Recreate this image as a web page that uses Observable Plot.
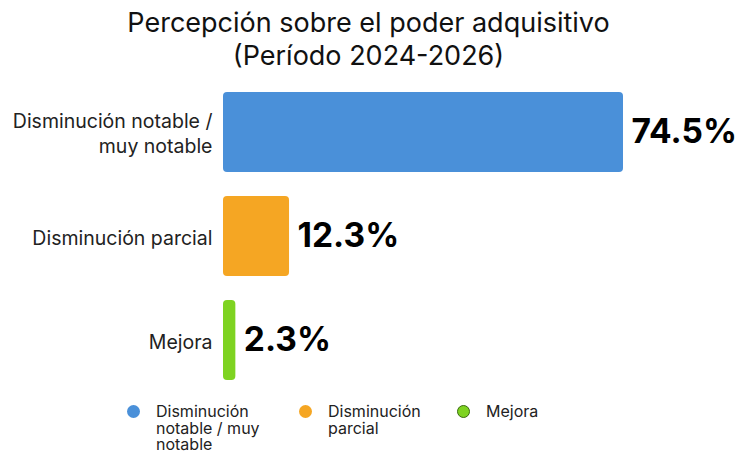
<!DOCTYPE html>
<html><head><meta charset="utf-8">
<script src="https://cdn.jsdelivr.net/npm/d3@7"></script>
<script src="https://cdn.jsdelivr.net/npm/@observablehq/plot@0.6"></script>
<style>
body{margin:0;background:#fff;font-family:Inter,"Noto Sans",sans-serif;overflow:hidden;}
#title{width:737px;height:80px;text-align:center;font-size:27px;line-height:33px;color:#111;padding-top:6px;box-sizing:border-box;}
#legend{display:flex;margin-left:127px;margin-top:11px;font-size:16px;line-height:16.5px;color:#222;}
.item{display:flex;align-items:flex-start;}
.dot{width:13px;height:13px;border-radius:50%;margin-top:2px;margin-right:16px;flex:none;box-sizing:border-box;}
</style></head>
<body>
<div id="title">Percepción sobre el poder adquisitivo<br>(Período 2024-2026)</div>
<div id="chart"></div>
<div id="legend"></div>
<script>
const categories = ["Disminución notable / muy notable", "Disminución parcial", "Mejora"];
const axisLabels = ["Disminución notable /\nmuy notable", "Disminución parcial", "Mejora"];
const values = [74.5, 12.3, 2.3];
const colors = ["#4a90d9", "#f5a623", "#7ed321"];
const legendLabels = ["Disminución\nnotable / muy\nnotable", "Disminución\nparcial", "Mejora"];
const legendWidths = [172, 158, 120];

const data = categories.map((c, i) => ({cat: c, value: values[i], color: colors[i]}));

const chart = Plot.plot({
  width: 737,
  height: 312,
  marginTop: 0,
  marginBottom: 0,
  marginLeft: 223,
  marginRight: 114,
  style: {fontFamily: "Inter, 'Noto Sans', sans-serif", background: "#fff", overflow: "visible"},
  x: {domain: [0, 74.5], axis: null},
  y: {domain: categories, padding: 0, label: null},
  color: {domain: categories, range: colors},
  marks: [
    Plot.barX(data, {x: "value", y: "cat", fill: "cat", insetTop: 12, insetBottom: 12, rx: 4}),
    Plot.text(data, {x: "value", y: "cat", text: d => d.value.toFixed(1) + "%", textAnchor: "start", dx: 8, fontSize: 33.5, fontWeight: "bold", fill: "#000"}),
    Plot.axisY({tickSize: 0, tickPadding: 11, fontSize: 19.5, lineHeight: 1.28, tickFormat: (d) => axisLabels[categories.indexOf(d)], fill: "#222", label: null})
  ]
});
document.getElementById("chart").appendChild(chart);

const legend = document.getElementById("legend");
categories.forEach((c, i) => {
  const item = document.createElement("div");
  item.className = "item";
  item.style.width = legendWidths[i] + "px";
  const dot = document.createElement("div");
  dot.className = "dot";
  dot.style.background = colors[i];
  if (i === 2) dot.style.border = "1px solid #3a6a10";
  const txt = document.createElement("div");
  txt.style.whiteSpace = "pre";
  txt.textContent = legendLabels[i];
  item.appendChild(dot);
  item.appendChild(txt);
  legend.appendChild(item);
});
</script>
</body></html>
